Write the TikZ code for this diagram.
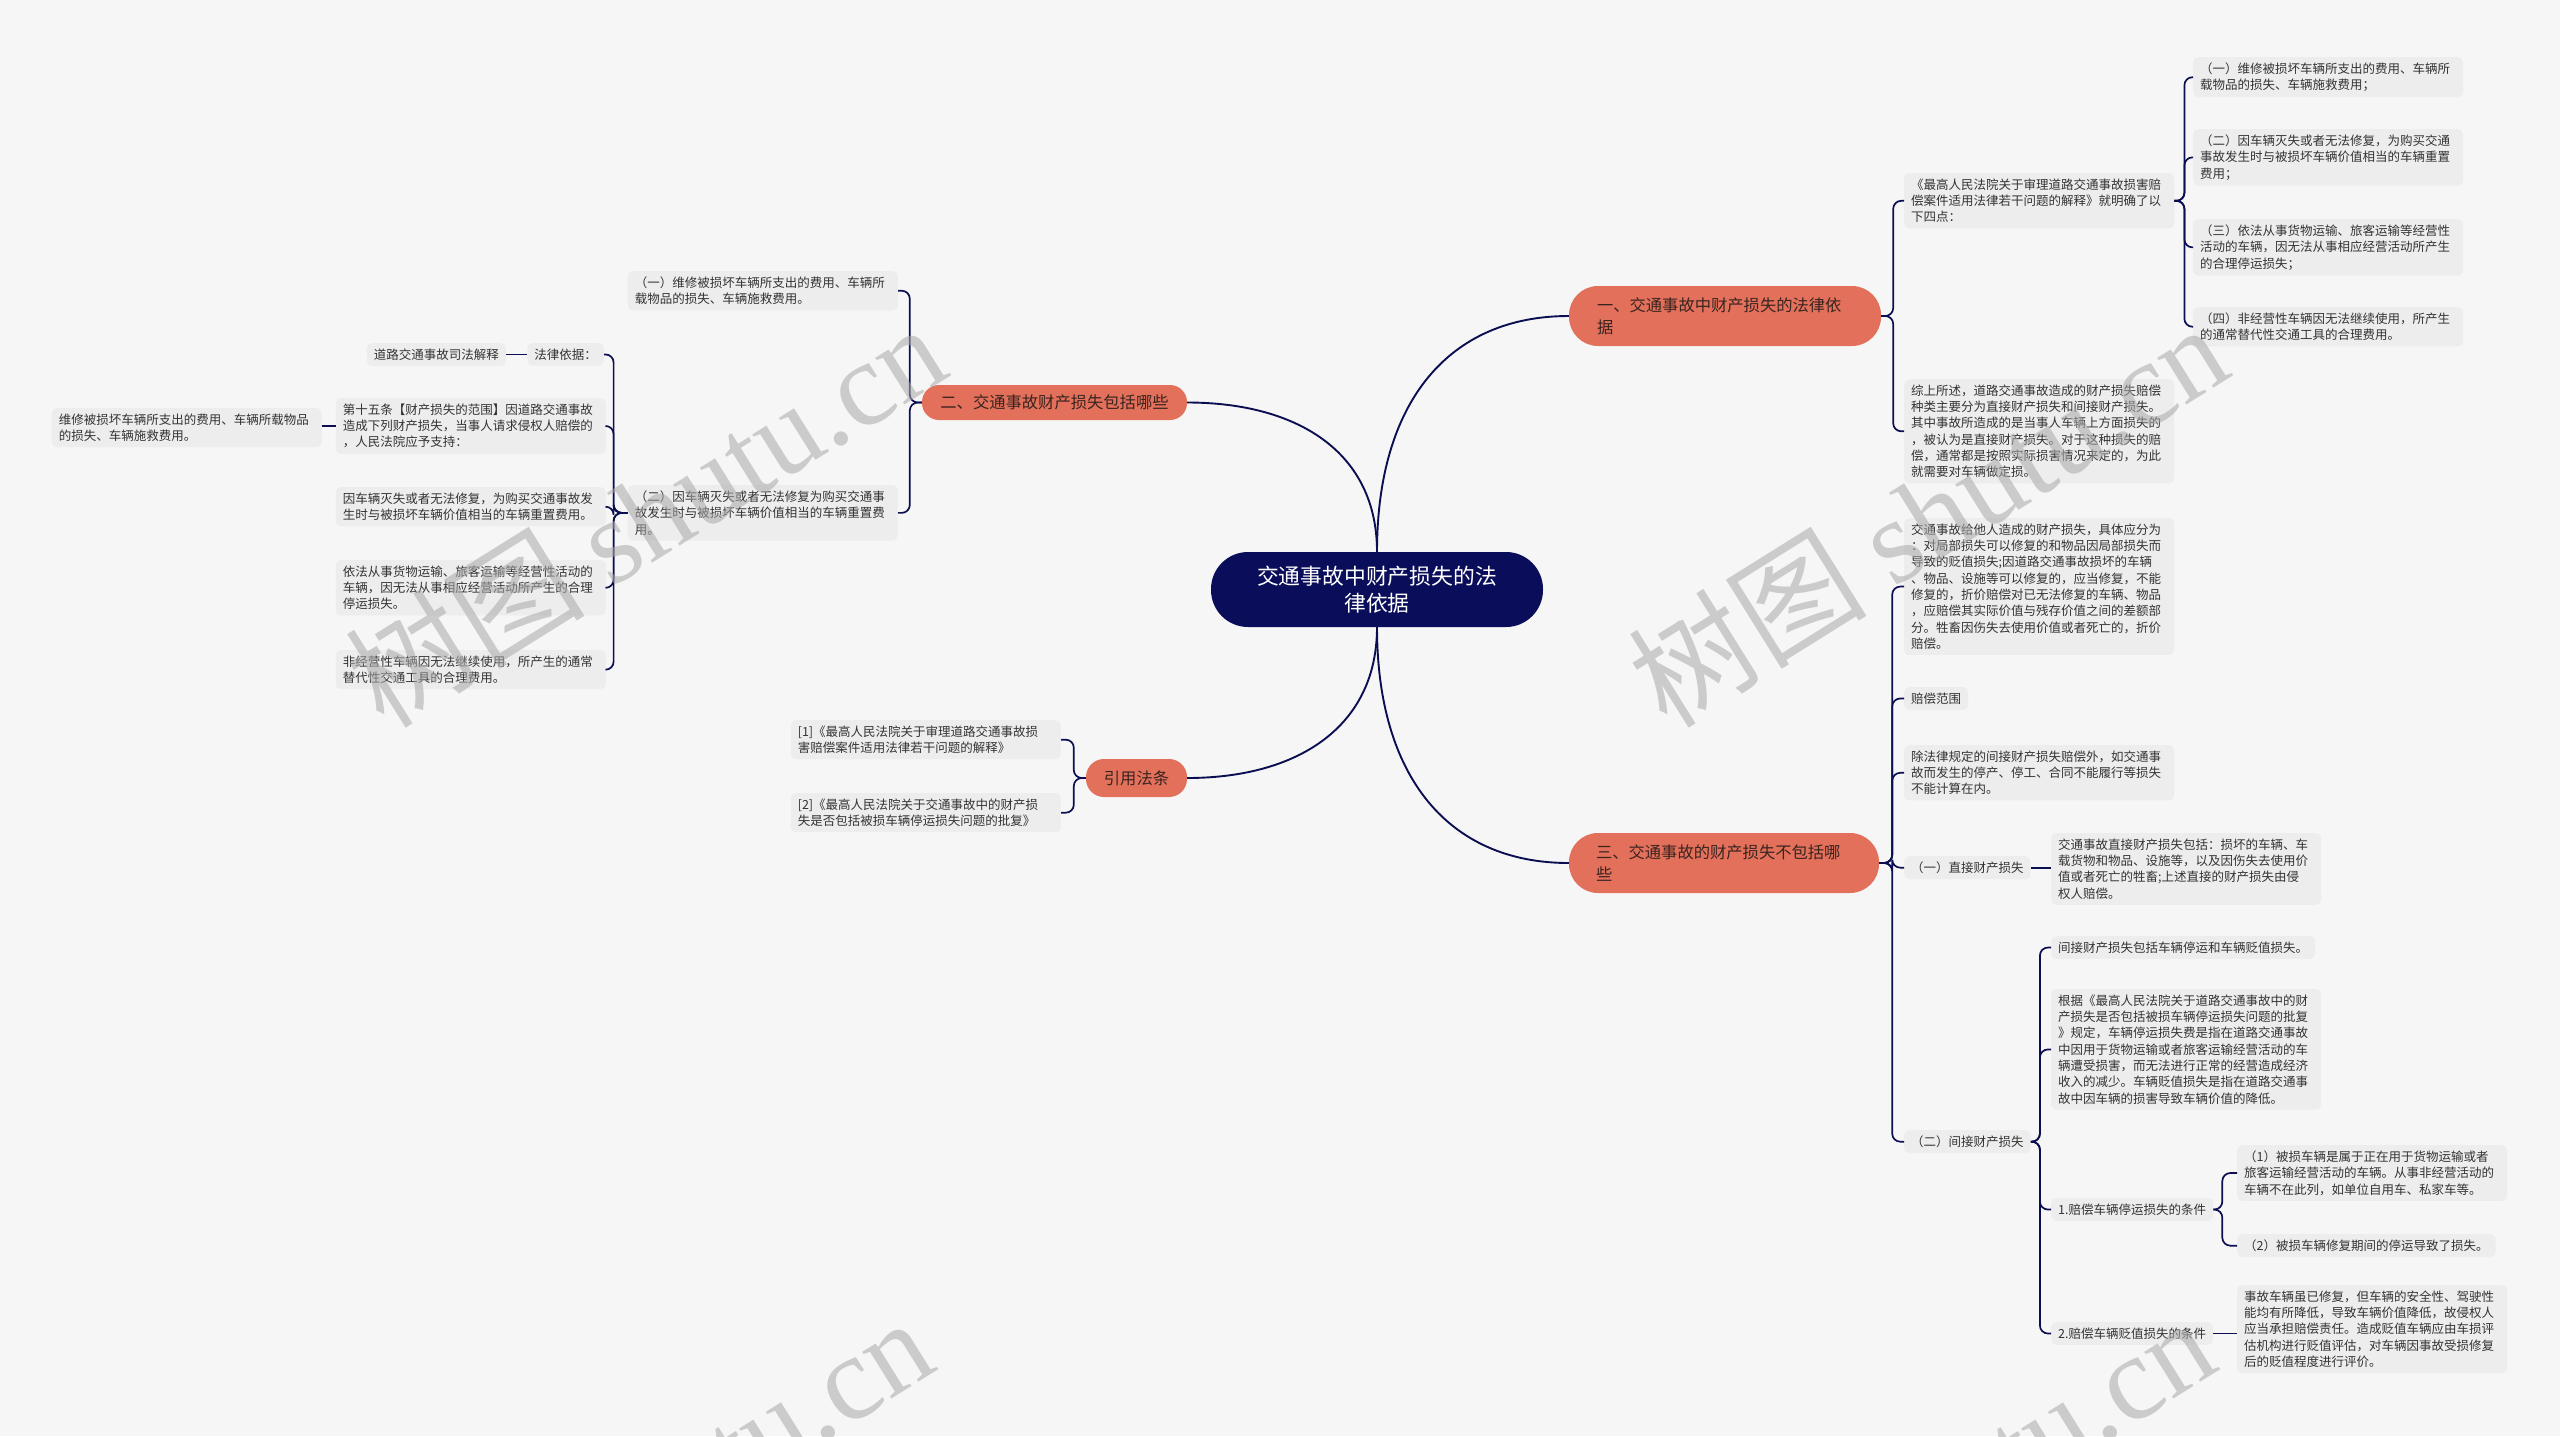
\documentclass[tikz,border=0pt]{standalone}
\usepackage{fontspec}
\setmainfont{Noto Sans CJK SC}
\newfontfamily\wmlatin{Liberation Serif}
\usetikzlibrary{calc}
\definecolor{pagebg}{HTML}{F6F6F6}
\definecolor{leafbg}{HTML}{EDEDED}
\definecolor{navy}{HTML}{0B0F52}
\definecolor{rootbg}{HTML}{0A0E5A}
\definecolor{salmon}{HTML}{E2705A}
\definecolor{leaftext}{HTML}{333333}
\definecolor{branchtext}{HTML}{3A2420}
\definecolor{wmgray}{HTML}{A8A8A8}
\tikzset{
  leaf/.style={fill=leafbg, rounded corners=5pt, inner xsep=7pt, inner ysep=5.5pt, align=left, text=leaftext, font=\fontsize{12.5}{16.3}\selectfont},
  wide/.style={text width=256pt},
  lnode/.style={leaf, anchor=north east},
  rnode/.style={leaf, anchor=north west},
  conn/.style={draw=navy, line width=1.7pt, rounded corners=8pt},
  mainline/.style={draw=navy, line width=1.9pt},
  branch/.style={fill=salmon, text=branchtext, font=\fontsize{16.3}{21.5}\selectfont, inner sep=0pt},
  root/.style={fill=rootbg, text=white, font=\fontsize{21.8}{27.5}\selectfont, inner sep=0pt, align=center},
  wm/.style={text=wmgray, text opacity=0.55, font=\fontsize{120}{130}\selectfont, inner sep=0pt, rotate=32},
}
\begin{document}
\begin{tikzpicture}[x=1pt,y=-1pt]
\useasboundingbox (0,0) rectangle (2560,1436);
\fill[pagebg] (0,0) rectangle (2560,1436);

% root and branches
\node[root, minimum width=332pt, minimum height=75pt, rounded corners=37pt] (C) at (1377,589.5) {交通事故中财产损失的法\\律依据};
\node[branch, minimum width=312pt, minimum height=60pt, rounded corners=29pt, text width=256pt, align=left] (B1) at (1725,316) {一、交通事故中财产损失的法律依\\据};
\node[branch, minimum width=265pt, minimum height=35pt, rounded corners=17pt] (B2) at (1054.5,402.5) {二、交通事故财产损失包括哪些};
\node[branch, minimum width=310pt, minimum height=60pt, rounded corners=29pt, text width=256pt, align=left] (B3) at (1724,863) {三、交通事故的财产损失不包括哪\\些};
\node[branch, minimum width=101pt, minimum height=38pt, rounded corners=18pt] (B4) at (1136.5,778) {引用法条};

% branch one
\node[rnode, wide] (Q) at (1904,173) {《最高人民法院关于审理道路交通事故损害赔\\偿案件适用法律若干问题的解释》就明确了以\\下四点：};
\node[rnode, wide] (R1) at (2193,57) {（一）维修被损坏车辆所支出的费用、车辆所\\载物品的损失、车辆施救费用；};
\node[rnode, wide] (R2) at (2193,129) {（二）因车辆灭失或者无法修复，为购买交通\\事故发生时与被损坏车辆价值相当的车辆重置\\费用；};
\node[rnode, wide] (R3) at (2193,219) {（三）依法从事货物运输、旅客运输等经营性\\活动的车辆，因无法从事相应经营活动所产生\\的合理停运损失；};
\node[rnode, wide] (R4) at (2193,307) {（四）非经营性车辆因无法继续使用，所产生\\的通常替代性交通工具的合理费用。};
\node[rnode, wide] (S) at (1904,379) {综上所述，道路交通事故造成的财产损失赔偿\\种类主要分为直接财产损失和间接财产损失。\\其中事故所造成的是当事人车辆上方面损失的\\，被认为是直接财产损失。对于这种损失的赔\\偿，通常都是按照实际损害情况来定的，为此\\就需要对车辆做定损。};

% branch three
\node[rnode, wide] (T1) at (1904,518) {交通事故给他人造成的财产损失，具体应分为\\：对局部损失可以修复的和物品因局部损失而\\导致的贬值损失;因道路交通事故损坏的车辆\\、物品、设施等可以修复的，应当修复，不能\\修复的，折价赔偿对已无法修复的车辆、物品\\，应赔偿其实际价值与残存价值之间的差额部\\分。牲畜因伤失去使用价值或者死亡的，折价\\赔偿。};
\node[rnode] (T2) at (1904,687) {赔偿范围};
\node[rnode, wide] (T3) at (1904,745) {除法律规定的间接财产损失赔偿外，如交通事\\故而发生的停产、停工、合同不能履行等损失\\不能计算在内。};
\node[rnode] (T4) at (1904,856) {（一）直接财产损失};
\node[rnode, wide] (T4a) at (2051,833) {交通事故直接财产损失包括：损坏的车辆、车\\载货物和物品、设施等，以及因伤失去使用价\\值或者死亡的牲畜;上述直接的财产损失由侵\\权人赔偿。};
\node[rnode] (T5) at (1904,1130) {（二）间接财产损失};
\node[rnode] (U1) at (2051,936) {间接财产损失包括车辆停运和车辆贬值损失。};
\node[rnode, wide] (U2) at (2051,989) {根据《最高人民法院关于道路交通事故中的财\\产损失是否包括被损车辆停运损失问题的批复\\》规定，车辆停运损失费是指在道路交通事故\\中因用于货物运输或者旅客运输经营活动的车\\辆遭受损害，而无法进行正常的经营造成经济\\收入的减少。车辆贬值损失是指在道路交通事\\故中因车辆的损害导致车辆价值的降低。};
\node[rnode] (U3) at (2051,1198) {1.赔偿车辆停运损失的条件};
\node[rnode, wide] (V1) at (2237,1145) {（1）被损车辆是属于正在用于货物运输或者\\旅客运输经营活动的车辆。从事非经营活动的\\车辆不在此列，如单位自用车、私家车等。};
\node[rnode] (V2) at (2237,1234) {（2）被损车辆修复期间的停运导致了损失。};
\node[rnode] (U4) at (2051,1322) {2.赔偿车辆贬值损失的条件};
\node[rnode, wide] (V3) at (2237,1285) {事故车辆虽已修复，但车辆的安全性、驾驶性\\能均有所降低，导致车辆价值降低，故侵权人\\应当承担赔偿责任。造成贬值车辆应由车损评\\估机构进行贬值评估，对车辆因事故受损修复\\后的贬值程度进行评价。};

% branch two (left)
\node[lnode, wide] (L1) at (898,271) {（一）维修被损坏车辆所支出的费用、车辆所\\载物品的损失、车辆施救费用。};
\node[lnode, wide] (L2) at (898,485) {（二）因车辆灭失或者无法修复为购买交通事\\故发生时与被损坏车辆价值相当的车辆重置费\\用。};
\node[lnode] (F) at (604,343) {法律依据：};
\node[lnode] (D) at (506,343) {道路交通事故司法解释};
\node[lnode, wide] (K) at (606,398) {第十五条【财产损失的范围】因道路交通事故\\造成下列财产损失，当事人请求侵权人赔偿的\\，人民法院应予支持：};
\node[lnode, wide] (W) at (322,408) {维修被损坏车辆所支出的费用、车辆所载物品\\的损失、车辆施救费用。};
\node[lnode, wide] (G) at (606,487) {因车辆灭失或者无法修复，为购买交通事故发\\生时与被损坏车辆价值相当的车辆重置费用。};
\node[lnode, wide] (H) at (606,560) {依法从事货物运输、旅客运输等经营性活动的\\车辆，因无法从事相应经营活动所产生的合理\\停运损失。};
\node[lnode, wide] (N) at (606,650) {非经营性车辆因无法继续使用，所产生的通常\\替代性交通工具的合理费用。};

% references
\node[lnode, wide] (Ref1) at (1061,720) {[1]《最高人民法院关于审理道路交通事故损\\害赔偿案件适用法律若干问题的解释》};
\node[lnode, wide] (Ref2) at (1061,793) {[2]《最高人民法院关于交通事故中的财产损\\失是否包括被损车辆停运损失问题的批复》};

% main curves
\draw[mainline] (C.north) .. controls +(0,-150) and +(-120,0) .. (B1.west);
\draw[mainline] (C.north) .. controls +(0,-100) and +(110,0) .. (B2.east);
\draw[mainline] (C.south) .. controls +(0,150) and +(-120,0) .. (B3.west);
\draw[mainline] (C.south) .. controls +(0,100) and +(110,0) .. (B4.east);

% brackets
\foreach \c in {Q,S} \draw[conn] (B1.east) -- ++(12,0) |- (\c.west);
\foreach \c in {R1,R2,R3,R4} \draw[conn] (Q.east) -- ++(10,0) |- (\c.west);
\foreach \c in {T1,T2,T3,T4,T5} \draw[conn] (B3.east) -- ++(13,0) |- (\c.west);
\draw[conn] (T4.east) -- (T4.east -| T4a.west);
\foreach \c in {U1,U2,U3,U4} \draw[conn] (T5.east) -- ++(9,0) |- (\c.west);
\foreach \c in {V1,V2} \draw[conn] (U3.east) -- ++(9,0) |- (\c.west);
\draw[conn] (U4.east) -- (U4.east -| V3.west);
\foreach \c in {L1,L2} \draw[conn] (B2.west) -- ++(-12,0) |- (\c.east);
\foreach \c in {F,K,G,H,N} \draw[conn] (L2.west) -- ++(-14,0) |- (\c.east);
\draw[conn] (F.west) -- (F.west -| D.east);
\draw[conn] (K.west) -- (K.west -| W.east);
\foreach \c in {Ref1,Ref2} \draw[conn] (B4.west) -- ++(-12,0) |- (\c.east);

% watermarks
\begin{scope}
\clip (0,0) rectangle (2560,1436);
\node[wm] (wm1) at (645,514) {树图 {\wmlatin shutu.cn}};
\node[wm] (wm2) at (1927,514) {树图 {\wmlatin shutu.cn}};
\node[wm] (wm3) at (632,1508) {树图 {\wmlatin shutu.cn}};
\node[wm] (wm4) at (1914,1508) {树图 {\wmlatin shutu.cn}};
\end{scope}
\end{tikzpicture}
\end{document}
